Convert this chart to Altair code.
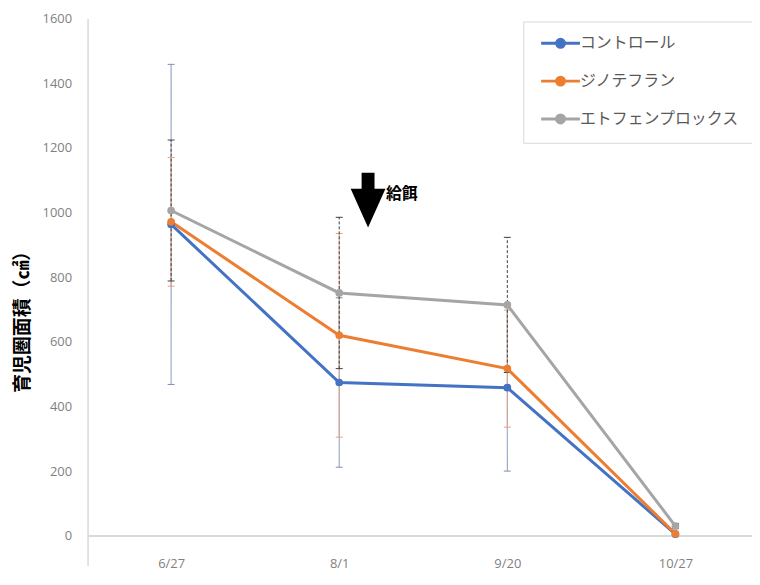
import altair as alt
import pandas as pd

dates = ["6/27", "8/1", "9/20", "10/27"]
series = ["コントロール", "ジノテフラン", "エトフェンプロックス"]
control_mean = [963, 474, 458, 5]
control_err = [495, 262, 258, 5]
dino_mean = [971, 620, 517, 6]
dino_err = [199, 315, 181, 5]
eto_mean = [1006, 751, 714, 30]
eto_err = [218, 234, 209, 8]

line_colors = ["#4472C4", "#ED7D31", "#A5A5A5"]
err_colors = ["#7d8fb3", "#e3a27c", "#3f3f3f"]
err_dash = [[1, 0], [1, 0], [3, 2]]
y_ticks = [0, 200, 400, 600, 800, 1000, 1200, 1400, 1600]

y_title = "育児圏面積（㎠）"
note_text = "給餌"
note_date = "8/1"
note_text_y = 1058
note_arrow_y = 1038

JP = "Noto Sans CJK JP"
NUM = "Open Sans"

means = [control_mean, dino_mean, eto_mean]
errs = [control_err, dino_err, eto_err]
rows = []
caps = []
for s, m, e in zip(series, means, errs):
    for d, mv, ev in zip(dates, m, e):
        rows.append({"series": s, "date": d, "mean": mv, "lo": mv - ev, "hi": mv + ev})
        caps.append({"series": s, "date": d, "mean": mv - ev})
        caps.append({"series": s, "date": d, "mean": mv + ev})
df = pd.DataFrame(rows)
caps_df = pd.DataFrame(caps)
note_df = pd.DataFrame({"date": [note_date], "ty": [note_text_y], "ay": [note_arrow_y], "label": [note_text]})

x_enc = alt.X(
    "date:N",
    sort=dates,
    scale=alt.Scale(type="point", domain=dates, range=[84, 591], padding=0),
    axis=alt.Axis(
        title=None, ticks=False, domain=False, offset=-30, labelPadding=22,
        labelColor="#7f7f7f", labelFontSize=13, labelFont=NUM, labelAngle=0, grid=False,
    ),
)
y_scale = alt.Scale(domain=[-92, 1600], nice=False, zero=False)
y_axis = alt.Axis(
    title=y_title, values=y_ticks, format="d", ticks=False, grid=False,
    domainColor="#d9d9d9", domainWidth=1.5, labelColor="#7f7f7f",
    labelFontSize=13, labelFont=NUM, labelPadding=16,
    titleFont=JP, titleFontSize=19, titleFontWeight="bold", titleColor="#000000",
    titleAngle=270, titleX=-65, titleY=300, titleAlign="center", titleBaseline="middle",
)

# legend symbol: a line with a dot, drawn to the right of the nominal symbol box
sym_line = "M-1,0L8.75,0M4.875,0A1,1,0,1,1,2.875,0A1,1,0,1,1,4.875,0Z"
color_enc = alt.Color(
    "series:N",
    scale=alt.Scale(domain=series, range=line_colors),
    sort=series,
    legend=alt.Legend(
        title=None, orient="none", legendX=438, legendY=3,
        symbolType=sym_line, symbolSize=64, symbolStrokeWidth=3,
        labelFont=JP, labelFontSize=16, labelColor="#595959", labelOffset=27,
        strokeColor="#d9d9d9", fillColor="#ffffff", padding=14, rowPadding=18,
        labelLimit=300,
    ),
)

zero = alt.Chart(df).mark_rule(color="#d9d9d9", strokeWidth=1.5).encode(
    y=alt.datum(0, type="quantitative", scale=y_scale)
)

err_layers = []
for s, c, dsh in zip(series, err_colors, err_dash):
    err_layers.append(
        alt.Chart(df).transform_filter(alt.datum.series == s).mark_rule(
            strokeWidth=1, color=c, strokeDash=dsh
        ).encode(
            x=x_enc,
            y=alt.Y("lo:Q", scale=y_scale, axis=y_axis),
            y2="hi:Q",
        )
    )
    err_layers.append(
        alt.Chart(caps_df).transform_filter(alt.datum.series == s).mark_point(
            shape="M-1,0L1,0", size=49, filled=False, strokeWidth=1, opacity=1, color=c
        ).encode(
            x=x_enc,
            y=alt.Y("mean:Q", scale=y_scale, axis=y_axis),
        )
    )

lines = alt.Chart(df).mark_line(strokeWidth=3).encode(
    x=x_enc,
    y=alt.Y("mean:Q", scale=y_scale, axis=y_axis),
    color=color_enc,
)
pts = alt.Chart(df).mark_point(filled=True, size=60, opacity=1).encode(
    x=x_enc,
    y=alt.Y("mean:Q", scale=y_scale, axis=y_axis),
    color=color_enc,
)
arrow_path = "M-0.236,-1L0.236,-1L0.236,-0.42L0.636,-0.42L0,1L-0.636,-0.42L-0.236,-0.42Z"
arrow = alt.Chart(note_df).mark_point(
    shape=arrow_path, size=3025, filled=True, color="#000000", opacity=1, strokeWidth=0, xOffset=29
).encode(
    x=x_enc,
    y=alt.Y("ay:Q", scale=y_scale, axis=y_axis),
)
note = alt.Chart(note_df).mark_text(
    align="left", baseline="middle", xOffset=47, fontSize=16, font=JP, fontWeight="bold", color="#000000"
).encode(
    x=x_enc,
    y=alt.Y("ty:Q", scale=y_scale, axis=y_axis),
    text="label:N",
)

chart = alt.layer(*err_layers, zero, lines, pts, arrow, note).properties(
    width=668, height=550,
    autosize=alt.AutoSizeParams(type="none"),
    padding={"left": 80, "top": 9, "right": 0, "bottom": 5},
    background="#ffffff",
).configure_view(stroke=None)

chart.save("out.html", embed_options={"renderer": "svg", "actions": False})
